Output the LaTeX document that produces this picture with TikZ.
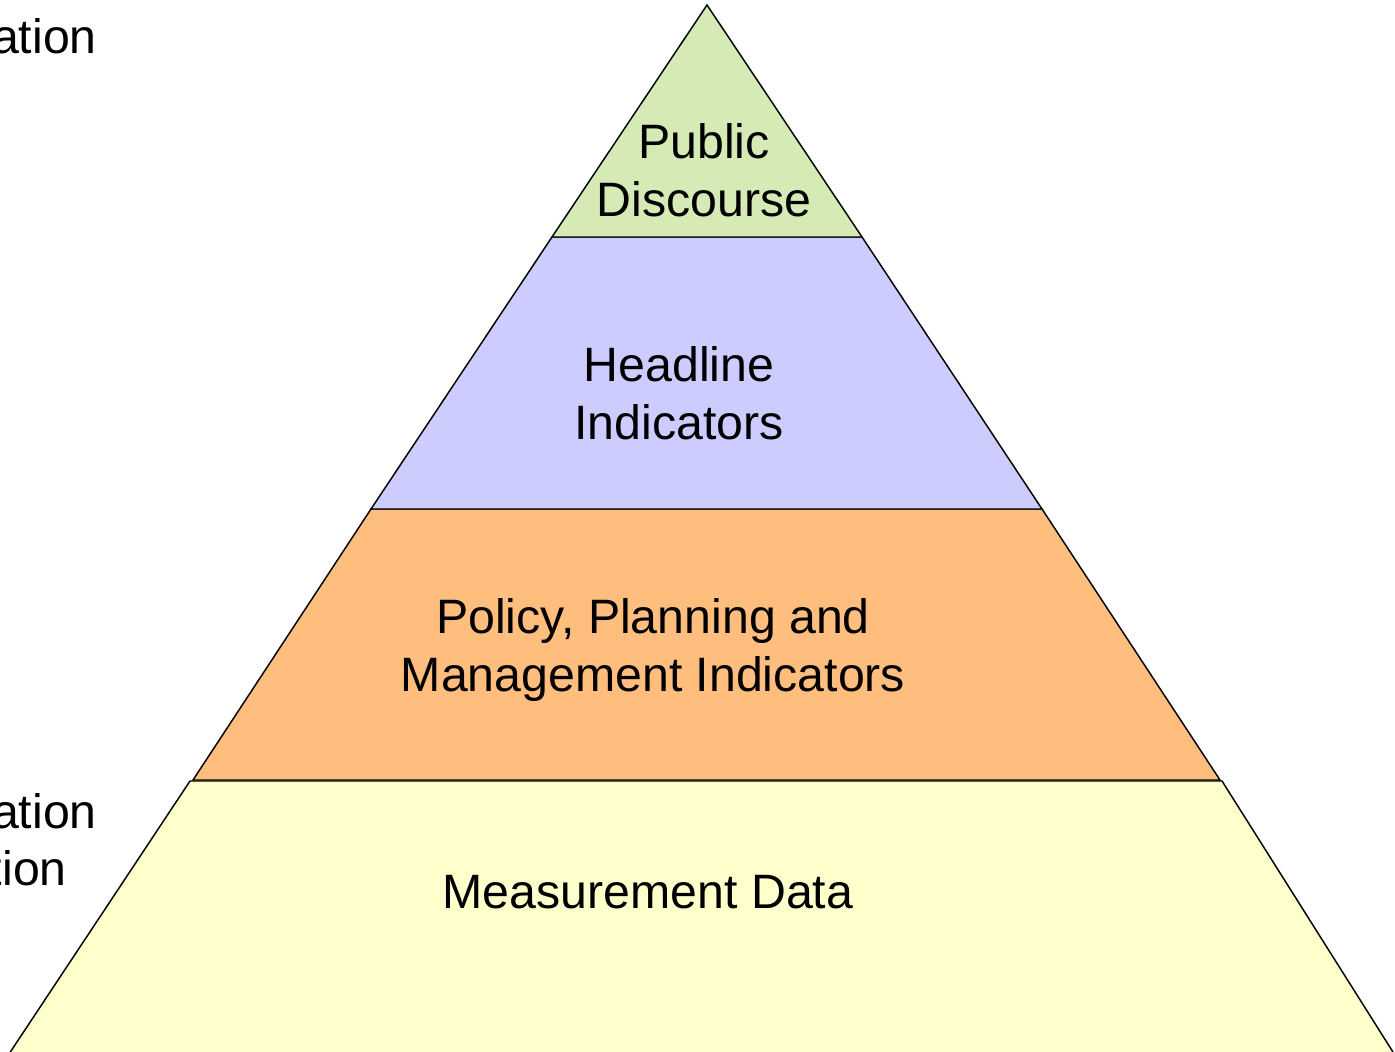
\documentclass[tikz,border=0pt]{standalone}
\usepackage{fontspec}
\setmainfont{Liberation Sans}
\definecolor{lgreen}{RGB}{214,234,181}
\definecolor{lblue}{RGB}{204,204,255}
\definecolor{lorange}{RGB}{255,190,125}
\definecolor{lyellow}{RGB}{255,255,204}
\begin{document}
\begin{tikzpicture}[x=0.75pt,y=-0.75pt,
  layer/.style={draw=black,line width=1.1pt,line join=miter},
  lbl/.style={font=\fontsize{36.2}{43.5}\selectfont,align=center,inner sep=0pt},
  side/.style={font=\fontsize{36.2}{43.5}\selectfont,inner sep=0pt,anchor=base east}]
\useasboundingbox (0,0) rectangle (1395,1052);
\begin{scope}
\clip (0,0) rectangle (1395,1052);
\fill[lyellow] (190,781) -- (1222,781) -- (1398,1060) -- (5,1060) -- cycle;
\draw[layer] (5,1060) -- (190,781) -- (1222,781) -- (1398,1060);
\end{scope}
\filldraw[layer,fill=lorange] (371,509) -- (1042,509) -- (1220,780) -- (193,780) -- cycle;
\filldraw[layer,fill=lblue] (552,237) -- (862,237) -- (1042,509) -- (371,509) -- cycle;
\filldraw[layer,fill=lgreen] (707,5) -- (862,237) -- (552,237) -- cycle;
\node[lbl] (pub) at (704,170) {Public\\Discourse};
\node[lbl] (head) at (679,393) {Headline\\Indicators};
\node[lbl] (pol) at (653,650) {Policy, Planning and\\Management Indicators};
\node[lbl] (meas) at (648,892) {Measurement Data};
\node[side] (t1) at (97,54) {ation};
\node[side] (b1) at (97,828) {ation};
\node[side] (b2) at (67,885) {tion};
\end{tikzpicture}
\end{document}
